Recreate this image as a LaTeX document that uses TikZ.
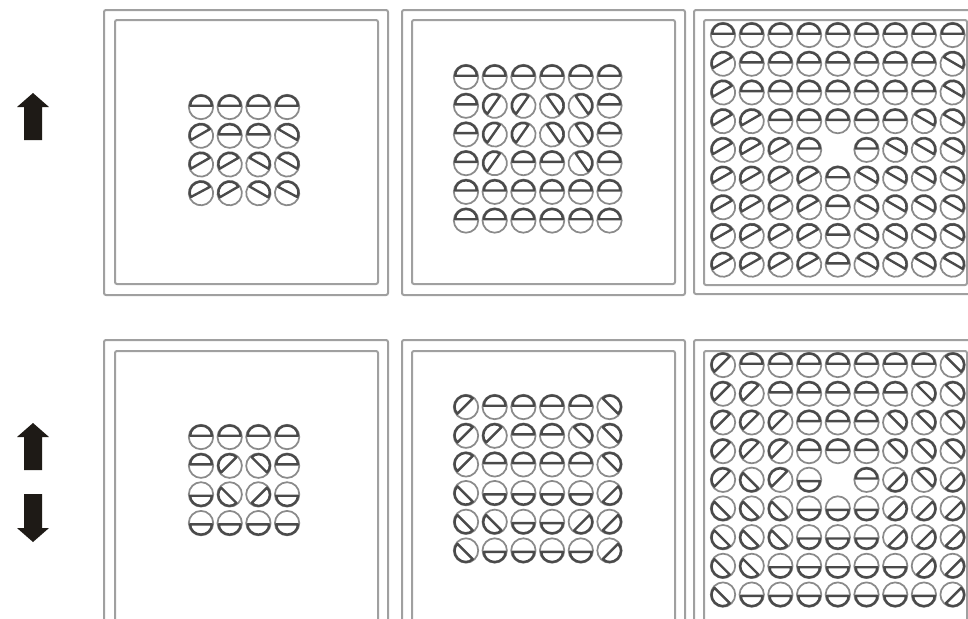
\documentclass[tikz,border=0pt]{standalone}
\usepackage{tikz}
\definecolor{framegray}{HTML}{A0A0A0}
\definecolor{ringgray}{HTML}{8A8A8A}
\definecolor{halfgray}{HTML}{4A4A4A}
\definecolor{arrowdark}{HTML}{1E1A16}
\tikzset{
  frameline/.style={draw=framegray, line width=1.5pt, rounded corners=1.5},
  ring/.style={draw=ringgray, line width=1.3pt},
  halfside/.style={draw=halfgray, line width=1.8pt, line join=round},
  bigarrow/.style={fill=arrowdark, draw=none}
}
\newcommand{\symcell}[3]{%
  \ifnum#3<0\relax\else
  \begin{scope}[shift={({#1},{#2})},rotate={#3-90}]
    \draw[ring] (0,0) circle (12.2);
    \draw[halfside] (-10.9,1.3) arc (180:0:10.9 and 10.2) -- cycle;
  \end{scope}\fi}
\newcommand{\panelgrid}[3]{%
  \foreach \row [count=\j from 0] in {#3} {%
    \foreach \p [count=\i from 0] in \row {%
      \symcell{#1+\i*28.7}{-(#2+\j*28.7)}{\p}}}}
\begin{document}
\begin{tikzpicture}[x=0.75pt,y=0.75pt]
\clip (0,0) rectangle (968,-618);
\fill[white] (0,0) rectangle (968,-618);
% frames, top row
\draw[frameline] (104,-10) rectangle (388,-295);
\draw[frameline] (115,-20) rectangle (378,-284);
\draw[frameline] (402,-10) rectangle (685,-295);
\draw[frameline] (412,-20) rectangle (675,-284);
\draw[frameline] (694,-10) rectangle (980,-294);
\draw[frameline] (704,-20) rectangle (967,-285);
% frames, bottom row
\draw[frameline] (104,-340) rectangle (388,-640);
\draw[frameline] (115,-351) rectangle (378,-630);
\draw[frameline] (402,-340) rectangle (685,-640);
\draw[frameline] (412,-351) rectangle (675,-630);
\draw[frameline] (694,-340) rectangle (980,-640);
\draw[frameline] (704,-351) rectangle (967,-630);
% arrows
\fill[bigarrow] (33,-93) -- (49,-107) -- (42,-107) -- (42,-140) -- (24,-140) -- (24,-107) -- (17,-107) -- cycle;
\fill[bigarrow] (33,-423) -- (49,-437) -- (42,-437) -- (42,-470) -- (24,-470) -- (24,-437) -- (17,-437) -- cycle;
\fill[bigarrow] (33,-542) -- (49,-528) -- (42,-528) -- (42,-494) -- (24,-494) -- (24,-528) -- (17,-528) -- cycle;
% top row grids
\panelgrid{201}{107}{{90,90,90,90},{120,90,90,60},{120,120,60,60},{118,120,60,62}}
\panelgrid{466}{77}{{90,90,90,90,90,90},{90,145,145,35,35,90},{90,145,145,35,35,90},{90,145,90,90,35,90},{90,90,90,90,90,90},{90,90,90,90,90,90}}
\panelgrid{723}{35}{%
{90,90,90,90,90,90,90,90,90},
{120,90,90,90,90,90,90,90,60},
{120,90,90,90,90,90,90,90,60},
{120,120,90,90,90,90,90,60,60},
{120,120,120,90,-1,90,60,60,60},
{120,120,120,120,90,60,60,60,60},
{120,120,120,120,90,60,60,60,60},
{120,120,120,120,90,60,60,60,60},
{120,120,120,120,90,60,60,60,60}}
% bottom row grids
\panelgrid{201}{437}{{90,90,90,90},{90,135,45,90},{270,225,315,270},{270,270,270,270}}
\panelgrid{466}{407}{{135,90,90,90,90,45},{135,135,90,90,45,45},{135,90,90,90,90,45},{225,270,270,270,270,315},{225,225,270,270,315,315},{225,270,270,270,270,315}}
\panelgrid{723}{365}{%
{135,90,90,90,90,90,90,90,45},
{135,135,90,90,90,90,90,45,45},
{135,135,135,90,90,90,45,45,45},
{135,135,135,90,90,90,45,45,45},
{135,225,135,270,-1,90,315,45,315},
{225,225,225,270,270,270,315,315,315},
{225,225,225,270,270,270,315,315,315},
{225,225,270,270,270,270,270,315,315},
{225,270,270,270,270,270,270,270,315}}
\end{tikzpicture}
\end{document}
